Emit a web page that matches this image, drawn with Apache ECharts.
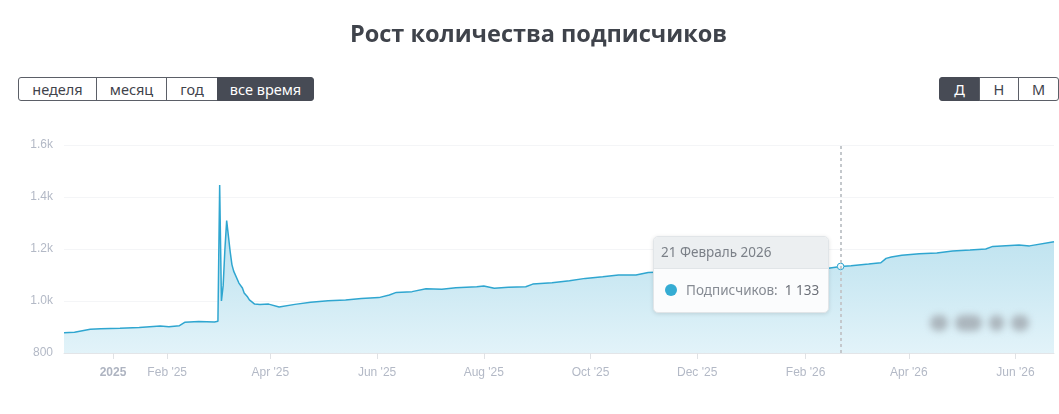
<!DOCTYPE html>
<html>
<head>
<meta charset="utf-8">
<script src="https://cdn.jsdelivr.net/npm/echarts@6/dist/echarts.min.js"></script>
<style>
    body { margin: 0; background: #fff; font-family: 'Noto Sans', sans-serif; }
    #wrap { position: relative; width: 1059px; height: 414px; overflow: hidden; }
    #chart { position: absolute; left: 0; top: 0; width: 1059px; height: 414px; }
    h1 { position: absolute; left: 0; width: 1077px; top: 17px; margin: 0; text-align: center;
         font-family: 'Open Sans', sans-serif; font-weight: 700; font-size: 23.5px; color: #3f434b; z-index: 2; }
    .btns { position: absolute; top: 77px; display: flex; z-index: 2; }
    .btns span { display: block; box-sizing: border-box; height: 24px; line-height: 22px; border: 1px solid #5b5f67; margin-left: -1px;
                 text-align: center; font-size: 14.5px; color: #3f434b; background: #fff; }
    .btns span:first-child { border-radius: 3px 0 0 3px; margin-left: 0; }
    .btns span:last-child { border-radius: 0 3px 3px 0; }
    .btns span.on { background: #474b55; color: #fff; border-color: #474b55; }
    #mark { position: absolute; left: 924px; top: 309px; width: 112px; height: 28px; z-index: 1;
            filter: blur(3.5px); display: flex; align-items: center; }
    #mark i { display: block; height: 16px; border-radius: 8px; background: #a3abb3; opacity: 0.85; margin-right: 7px; }
</style>
</head>
<body>
<div id="wrap">
    <div id="chart"></div>
    <h1>Рост количества подписчиков</h1>
    <div class="btns" style="left:18px">
        <span style="width:79px">неделя</span>
        <span style="width:71px">месяц</span>
        <span style="width:52px">год</span>
        <span class="on" style="width:97px">все время</span>
    </div>
    <div class="btns" style="left:939px">
        <span class="on" style="width:41px">Д</span>
        <span style="width:40px">Н</span>
        <span style="width:41px">М</span>
    </div>
    <div id="mark"><i style="width:20px;margin-left:6px"></i><i style="width:30px"></i><i style="width:17px"></i><i style="width:20px"></i></div>
</div>
<script>
var dates = [
    '2024-12-04', '2024-12-10', '2024-12-19', '2024-12-25', '2025-01-05', '2025-01-16', '2025-01-28',
    '2025-02-02', '2025-02-08', '2025-02-11', '2025-02-19', '2025-02-28', '2025-03-02', '2025-03-03',
    '2025-03-04', '2025-03-05', '2025-03-06', '2025-03-07', '2025-03-08', '2025-03-09', '2025-03-10',
    '2025-03-11', '2025-03-14', '2025-03-16', '2025-03-17', '2025-03-19', '2025-03-20', '2025-03-23',
    '2025-03-26', '2025-03-31', '2025-04-06', '2025-04-15', '2025-04-24', '2025-05-04', '2025-05-14',
    '2025-05-23', '2025-06-02', '2025-06-08', '2025-06-12', '2025-06-21', '2025-06-29', '2025-07-08',
    '2025-07-16', '2025-07-28', '2025-08-01', '2025-08-07', '2025-08-15', '2025-08-25', '2025-08-29',
    '2025-09-09', '2025-09-19', '2025-09-28', '2025-10-08', '2025-10-17', '2025-10-27', '2025-11-03',
    '2025-12-02', '2025-12-31', '2026-01-28', '2026-02-14', '2026-02-21', '2026-02-27', '2026-03-09',
    '2026-03-16', '2026-03-19', '2026-03-22', '2026-03-28', '2026-04-07', '2026-04-17', '2026-04-26',
    '2026-05-06', '2026-05-15', '2026-05-19', '2026-06-03', '2026-06-09', '2026-06-23'
];
var subscribers = [
    878, 880, 891, 893, 895, 898, 904,
    901, 905, 918, 921, 919, 922, 1446,
    1000, 1060, 1200, 1309, 1250, 1190, 1140,
    1115, 1069, 1050, 1031, 1015, 1004, 988,
    987, 988, 977, 987, 995, 1001, 1004,
    1010, 1013, 1023, 1033, 1036, 1047, 1045,
    1051, 1055, 1058, 1049, 1053, 1055, 1065,
    1070, 1078, 1087, 1093, 1100, 1100, 1110,
    1116, 1122, 1126, 1126, 1133, 1136, 1142,
    1147, 1164, 1169, 1176, 1182, 1185, 1192,
    1196, 1200, 1210, 1215, 1212, 1228
];
var tickDates = ['2025-01-01', '2025-02-01', '2025-04-01', '2025-06-01', '2025-08-01', '2025-10-01',
                 '2025-12-01', '2026-02-01', '2026-04-01', '2026-06-01'];
var monthShort = ['Jan', 'Feb', 'Mar', 'Apr', 'May', 'Jun', 'Jul', 'Aug', 'Sep', 'Oct', 'Nov', 'Dec'];
var monthRu = ['Январь', 'Февраль', 'Март', 'Апрель', 'Май', 'Июнь', 'Июль', 'Август', 'Сентябрь', 'Октябрь', 'Ноябрь', 'Декабрь'];
var seriesName = 'Подписчиков';
var activeDate = '2026-02-21';

function ts(s) {
    var p = s.split('-');
    return +new Date(+p[0], +p[1] - 1, +p[2]);
}

var chart = echarts.init(document.getElementById('chart'));
var tickValues = tickDates.map(ts);

var option = {
    animation: false,
    grid: { left: 64, right: 5, top: 145, bottom: 61 },
    tooltip: {
        trigger: 'axis',
        alwaysShowContent: true,
        transitionDuration: 0,
        padding: 0,
        borderWidth: 1,
        borderColor: '#e1e5e8',
        backgroundColor: '#fbfcfd',
        extraCssText: 'box-shadow:0 1px 4px rgba(0,0,0,0.12);border-radius:5px;overflow:hidden;',
        position: function () { return [653, 236]; },
        axisPointer: {
            type: 'line',
            label: { show: false },
            lineStyle: { color: '#c4c8cc', width: 2, type: [3, 3] }
        },
        formatter: function (params) {
            var p = params[0];
            var d = new Date(p.value[0]);
            var v = String(p.value[1]).replace(/\B(?=(\d{3})+(?!\d))/g, ' ');
            return '<div style="width:174px;font-family:Noto Sans,sans-serif;">' +
                '<div style="background:#eceff1;height:31px;line-height:31px;padding-left:7px;font-size:13.5px;color:#7b8088;border-bottom:1px solid #e1e5e8;">' +
                d.getDate() + ' ' + monthRu[d.getMonth()] + ' ' + d.getFullYear() + '</div>' +
                '<div style="height:43px;line-height:43px;padding-left:11px;font-size:13.5px;color:#868b93;">' +
                '<span style="display:inline-block;width:12px;height:12px;border-radius:6px;background:#35acd3;vertical-align:-1px;margin-right:9px;"></span>' +
                seriesName + ':&nbsp; <span style="color:#6d7179">' + v + '</span></div></div>';
        }
    },
    xAxis: {
        type: 'value',
        min: ts('2024-12-04'),
        max: ts('2026-06-23'),
        axisLine: { lineStyle: { color: '#e3e5e8' } },
        axisTick: { show: true, customValues: tickValues, length: 6, lineStyle: { color: '#e0e2e5' } },
        splitLine: { show: false },
        axisLabel: {
            customValues: tickValues,
            margin: 14,
            color: '#b3b9c6',
            fontSize: 12,
            fontFamily: 'Liberation Sans, Arial, sans-serif',
            formatter: function (val) {
                var d = new Date(val);
                if (d.getMonth() === 0) return '{y|' + d.getFullYear() + '}';
                return monthShort[d.getMonth()] + " '" + String(d.getFullYear()).slice(2);
            },
            rich: { y: { fontWeight: 'bold', color: '#aeb4c1', fontSize: 12, fontFamily: 'Liberation Sans, Arial, sans-serif' } }
        }
    },
    yAxis: {
        type: 'value',
        min: 800,
        max: 1600,
        interval: 200,
        axisLine: { show: false },
        axisTick: { show: false },
        splitLine: { lineStyle: { color: '#f4f5f7' } },
        axisLabel: {
            color: '#b3b9c6',
            fontSize: 12,
            margin: 11,
            fontFamily: 'Liberation Sans, Arial, sans-serif',
            formatter: function (v) { return v < 1000 ? String(v) : (v / 1000).toFixed(1) + 'k'; }
        }
    },
    series: [{
        name: seriesName,
        type: 'line',
        showSymbol: false,
        symbol: 'circle',
        symbolSize: 6,
        itemStyle: { color: '#f2f7fa', borderColor: '#2fa6d0', borderWidth: 1 },
        lineStyle: { color: '#2fa6d0', width: 1.5 },
        areaStyle: {
            opacity: 1,
            color: new echarts.graphic.LinearGradient(0, 0, 0, 1, [
                { offset: 0, color: '#b2ddec' },
                { offset: 0.5, color: '#c8e7f2' },
                { offset: 1, color: '#e2f3f9' }
            ])
        },
        emphasis: { disabled: true },
        data: dates.map(function (d, i) { return [ts(d), subscribers[i]]; })
    }]
};
chart.setOption(option);
chart.dispatchAction({ type: 'showTip', seriesIndex: 0, dataIndex: dates.indexOf(activeDate) });
</script>
</body>
</html>
